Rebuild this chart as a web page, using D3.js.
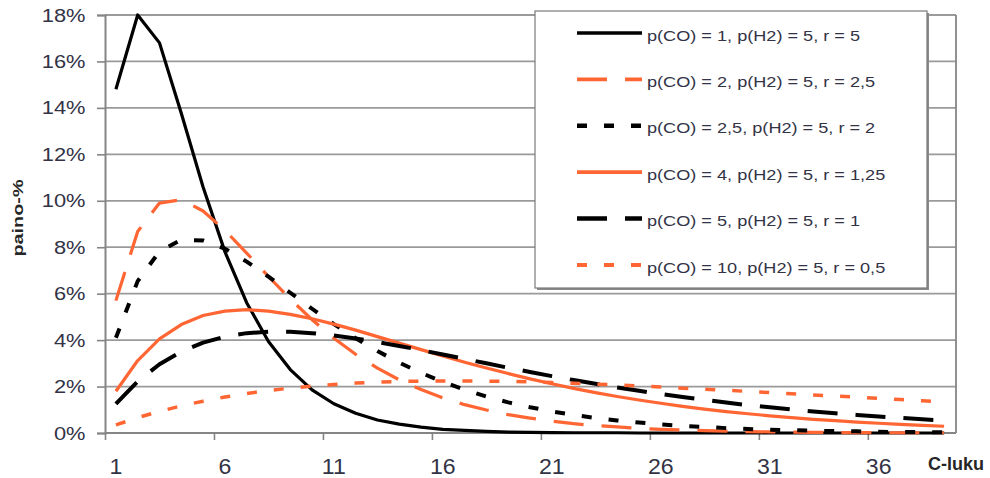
<!DOCTYPE html>
<html>
<head>
<meta charset="utf-8">
<script src="https://cdn.jsdelivr.net/npm/d3@7"></script>
<style>
	body { margin: 0; background: #fff; }
	svg { display: block; font-family: "Liberation Sans", Arial, sans-serif; }
</style>
</head>
<body>
<svg id="chart"></svg>
<script>
const carbonNumbers = [1, 2, 3, 4, 5, 6, 7, 8, 9, 10, 11, 12, 13, 14, 15, 16, 17, 18, 19, 20,
	21, 22, 23, 24, 25, 26, 27, 28, 29, 30, 31, 32, 33, 34, 35, 36, 37, 38, 39];
const xLabelValues = [1, 6, 11, 16, 21, 26, 31, 36];
const yTickValues = [0, 2, 4, 6, 8, 10, 12, 14, 16, 18];

const seriesNames = [
	"p(CO) = 1, p(H2) = 5, r = 5",
	"p(CO) = 2, p(H2) = 5, r = 2,5",
	"p(CO) = 2,5, p(H2) = 5, r = 2",
	"p(CO) = 4, p(H2) = 5, r = 1,25",
	"p(CO) = 5, p(H2) = 5, r = 1",
	"p(CO) = 10, p(H2) = 5, r = 0,5"
];

// paino-% per C-luku
const r5 = [14.8, 18.0, 16.8, 13.77, 10.59, 7.81, 5.61, 3.94, 2.73, 1.86, 1.26, 0.85, 0.56, 0.38, 0.25,
	0.16, 0.11, 0.07, 0.04, 0.03, 0.02, 0.01, 0.01, 0.01, 0, 0, 0, 0, 0, 0, 0, 0, 0, 0, 0, 0, 0, 0, 0];
const r25 = [5.7, 8.68, 9.9, 10.05, 9.56, 8.73, 7.75, 6.74, 5.77, 4.88, 4.08, 3.39, 2.79, 2.29, 1.87,
	1.51, 1.22, 0.99, 0.79, 0.64, 0.51, 0.4, 0.32, 0.26, 0.2, 0.16, 0.13, 0.1, 0.08, 0.06, 0.05, 0.04,
	0.03, 0.02, 0.02, 0.01, 0.01, 0.01, 0.01];
const r2 = [4.1, 6.54, 7.82, 8.32, 8.29, 7.94, 7.38, 6.73, 6.04, 5.35, 4.69, 4.08, 3.53, 3.03, 2.59,
	2.2, 1.87, 1.57, 1.32, 1.11, 0.93, 0.78, 0.65, 0.54, 0.45, 0.37, 0.31, 0.26, 0.21, 0.17, 0.14, 0.12,
	0.1, 0.08, 0.07, 0.05, 0.04, 0.04, 0.03];
const r125 = [1.8, 3.12, 4.05, 4.67, 5.06, 5.25, 5.31, 5.25, 5.11, 4.92, 4.69, 4.43, 4.15, 3.87, 3.59,
	3.32, 3.05, 2.8, 2.56, 2.33, 2.12, 1.92, 1.74, 1.57, 1.42, 1.28, 1.15, 1.03, 0.92, 0.83, 0.74, 0.66,
	0.59, 0.53, 0.47, 0.42, 0.37, 0.33, 0.29];
const r1 = [1.25, 2.22, 2.96, 3.5, 3.89, 4.15, 4.3, 4.36, 4.36, 4.3, 4.2, 4.07, 3.92, 3.75, 3.57,
	3.38, 3.19, 3.0, 2.81, 2.63, 2.45, 2.28, 2.12, 1.96, 1.82, 1.68, 1.55, 1.43, 1.31, 1.2, 1.11, 1.01,
	0.93, 0.85, 0.78, 0.71, 0.65, 0.59, 0.54];
const r05 = [0.35, 0.66, 0.93, 1.17, 1.37, 1.55, 1.7, 1.83, 1.93, 2.02, 2.09, 2.15, 2.19, 2.22, 2.23,
	2.24, 2.24, 2.23, 2.22, 2.2, 2.17, 2.14, 2.1, 2.07, 2.02, 1.98, 1.93, 1.89, 1.84, 1.79, 1.74, 1.69,
	1.64, 1.59, 1.54, 1.49, 1.44, 1.39, 1.34];

const orange = "#ff6633";
const styles = [
	{ color: "#000", dash: null, width: 3.2 },
	{ color: orange, dash: "30,18", width: 3.2 },
	{ color: "#000", dash: "10,17", width: 4 },
	{ color: orange, dash: null, width: 3.2 },
	{ color: "#000", dash: "30,18", width: 4 },
	{ color: orange, dash: "10,17", width: 3.5 }
];
const series = [r5, r25, r2, r125, r1, r05].map((values, i) => ({
	name: seriesNames[i], values, ...styles[i]
}));

const svg = d3.select("#chart").attr("width", 990).attr("height", 478);
const gridColor = "#9a9a9a";
const axisColor = "#858585";
const textColor = "#333346";

const x = d3.scaleBand().domain(carbonNumbers).range([105, 955]);
const xEdge = d3.scaleLinear().domain([0.5, 39.5]).range([105, 955]);
const y = d3.scaleLinear().domain([0, 18]).range([433, 15]);
const cx = c => x(c) + x.bandwidth() / 2;

// gridlines
svg.append("g")
	.selectAll("line")
	.data(yTickValues.filter(d => d > 0))
	.join("line")
	.attr("x1", 105)
	.attr("x2", 956)
	.attr("y1", d => y(d))
	.attr("y2", d => y(d))
	.attr("stroke", gridColor)
	.attr("stroke-width", 1.8);

// plot area right border
svg.append("line")
	.attr("x1", 956).attr("x2", 956)
	.attr("y1", y(18)).attr("y2", y(0))
	.attr("stroke", axisColor)
	.attr("stroke-width", 1.8);

// y axis
const yAxis = svg.append("g")
	.attr("transform", "translate(105,0)")
	.call(d3.axisLeft(y).tickValues(yTickValues).tickSize(8).tickPadding(9).tickFormat(d => `${d}%`));
yAxis.select(".domain").attr("stroke", axisColor).attr("stroke-width", 2);
yAxis.selectAll(".tick line").attr("stroke", axisColor).attr("stroke-width", 1.6);
yAxis.selectAll(".tick text")
	.attr("font-size", 19)
	.attr("fill", textColor)
	.attr("transform", "scale(1.15,1)");

// x axis: ticks between categories, labels on categories
const xTicks = svg.append("g")
	.attr("transform", `translate(0,${y(0)})`)
	.call(d3.axisBottom(xEdge).tickValues(xLabelValues.map(d => d - 0.5)).tickSize(7).tickFormat(""));
xTicks.select(".domain").attr("d", `M105,0H956`).attr("stroke", axisColor).attr("stroke-width", 2);
xTicks.selectAll(".tick line").attr("stroke", axisColor).attr("stroke-width", 1.6);

const xLabels = svg.append("g")
	.attr("transform", `translate(0,${y(0)})`)
	.call(d3.axisBottom(x).tickValues(xLabelValues).tickSize(0).tickPadding(25));
xLabels.select(".domain").remove();
xLabels.selectAll(".tick text")
	.attr("font-size", 22)
	.attr("fill", textColor)
	.attr("transform", "scale(1.05,1)");

svg.append("text")
	.attr("x", 928)
	.attr("y", 470)
	.attr("font-size", 18)
	.attr("font-weight", "bold")
	.attr("fill", "#262626")
	.text("C-luku");

svg.append("text")
	.attr("transform", "translate(23,218) rotate(-90)")
	.attr("text-anchor", "middle")
	.attr("font-size", 14)
	.attr("font-weight", "bold")
	.attr("fill", "#262626")
	.attr("textLength", 77)
	.attr("lengthAdjust", "spacingAndGlyphs")
	.text("paino-%");

// legend
const legend = svg.append("g");
legend.append("rect")
	.attr("x", 537).attr("y", 13).attr("width", 392).attr("height", 277)
	.attr("fill", "#8a8a8a");
legend.append("rect")
	.attr("x", 535).attr("y", 11).attr("width", 392).attr("height", 277)
	.attr("fill", "#fff")
	.attr("stroke", "#7a7a7a")
	.attr("stroke-width", 1.2);

const rows = legend.selectAll(".row")
	.data(series)
	.join("g")
	.attr("class", "row")
	.attr("transform", (d, i) => `translate(0,${33 + i * 46.4})`);
rows.append("line")
	.attr("x1", 577).attr("x2", 642)
	.attr("stroke", d => d.color)
	.attr("stroke-width", d => d.width + 0.5)
	.attr("stroke-dasharray", d => d.dash);
rows.append("text")
	.attr("transform", "translate(647,7.5) scale(1.17,1)")
	.attr("font-size", 15.5)
	.attr("fill", textColor)
	.text(d => d.name);

// series lines
const line = d3.line()
	.x((d, i) => cx(carbonNumbers[i]))
	.y(d => y(d));

svg.append("g")
	.selectAll("path")
	.data(series)
	.join("path")
	.attr("d", d => line(d.values))
	.attr("fill", "none")
	.attr("stroke", d => d.color)
	.attr("stroke-width", d => d.width)
	.attr("stroke-dasharray", d => d.dash)
	.attr("stroke-linejoin", "round");
</script>
</body>
</html>
